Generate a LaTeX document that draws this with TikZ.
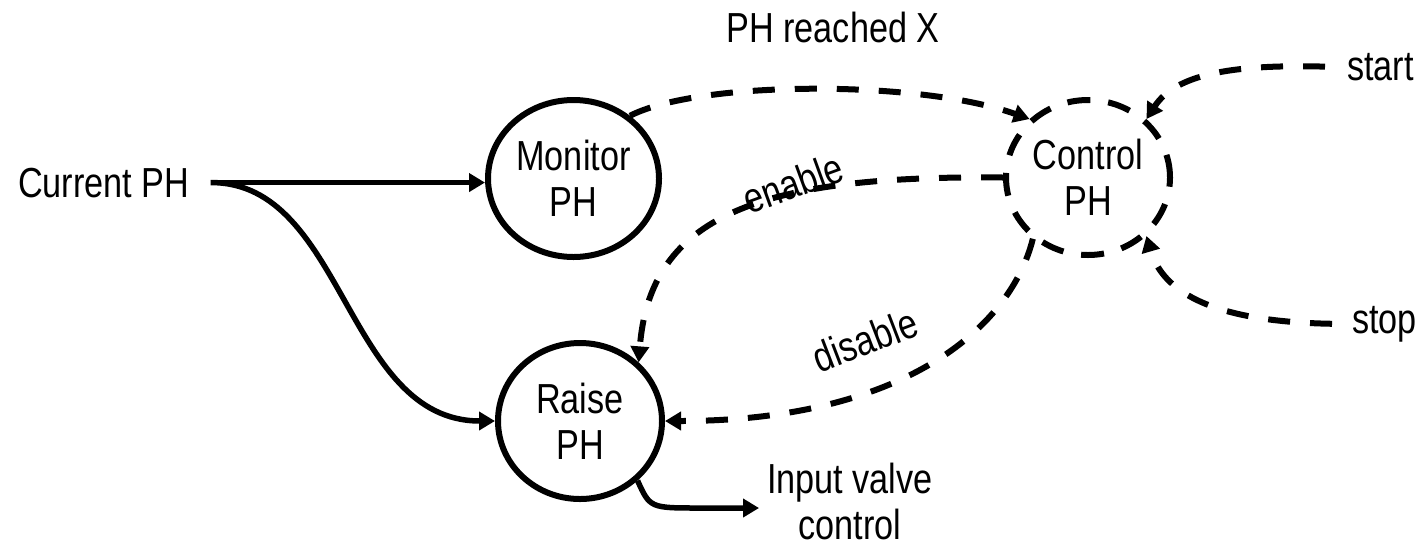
\documentclass[tikz,border=0pt]{standalone}
\usepackage{fontspec}
\setmainfont{Liberation Sans}[FakeStretch=0.815]
\usetikzlibrary{arrows.meta,shapes.geometric}
\begin{document}
\begin{tikzpicture}[x=1pt,y=-1pt,
  txt/.style={font=\fontsize{42}{46}\selectfont, inner sep=0pt, align=center},
  proc/.style={ellipse, draw, line width=6pt, inner sep=0pt, font=\fontsize{42}{46}\selectfont, align=center},
  ctrlproc/.style={proc, dash pattern=on 23pt off 18pt, line width=6pt},
  flow/.style={line width=5.5pt, -{Triangle[length=16pt,width=18pt]}},
  dflow/.style={flow, line width=6pt, dash pattern=on 22pt off 20pt},
]
\useasboundingbox (0,0) rectangle (1420,550);

\node[txt, anchor=base west] (cur) at (18,197) {Current PH};
\node[proc, minimum width=171pt, minimum height=157pt] (mon) at (573.5,178.5) {Monitor\\PH};
\node[proc, minimum width=164pt, minimum height=156pt] (raise) at (580,421) {Raise\\PH};
\node[ctrlproc, minimum width=164pt, minimum height=155pt] (ctrl) at (1088,177.5) {Control\\PH};
\node[txt, anchor=base] (reached) at (833,42) {PH reached X};
\node[txt, anchor=base west] (start) at (1347,80) {start};
\node[txt, anchor=base west] (stop) at (1352,333) {stop};
\node[txt] (valve) at (850,501) {Input valve\\control};
\node[txt, rotate=20] (en) at (793,183) {enable};
\node[txt, rotate=21] (dis) at (865,340) {disable};

\coordinate (curout) at ([xshift=21pt]cur.east);
\coordinate (vv) at (700,508);

\draw[flow] (curout) -- (curout -| mon.west);
\draw[flow] (curout) .. controls (345,182) and (345,421) .. (raise.west);
\draw[dflow] (mon.48) .. controls (700,80) and (920,80) .. (ctrl.135);
\draw[dflow] ([xshift=-22pt]start.west) .. controls (1230,64) and (1175,75) .. (ctrl.45);
\draw[dflow] ([xshift=-20pt]stop.west) .. controls (1230,322) and (1165,300) .. (ctrl.-45);
\draw[dflow] (ctrl.west) .. controls (760,175) and (650,215) .. (raise.45);
\draw[dflow] (ctrl.228) .. controls (1010,330) and (900,421) .. (raise.east);
\draw[flow] (raise.-46) .. controls (650,508) .. (vv) -- ([xshift=-8pt]valve.west |- vv);
\end{tikzpicture}
\end{document}
